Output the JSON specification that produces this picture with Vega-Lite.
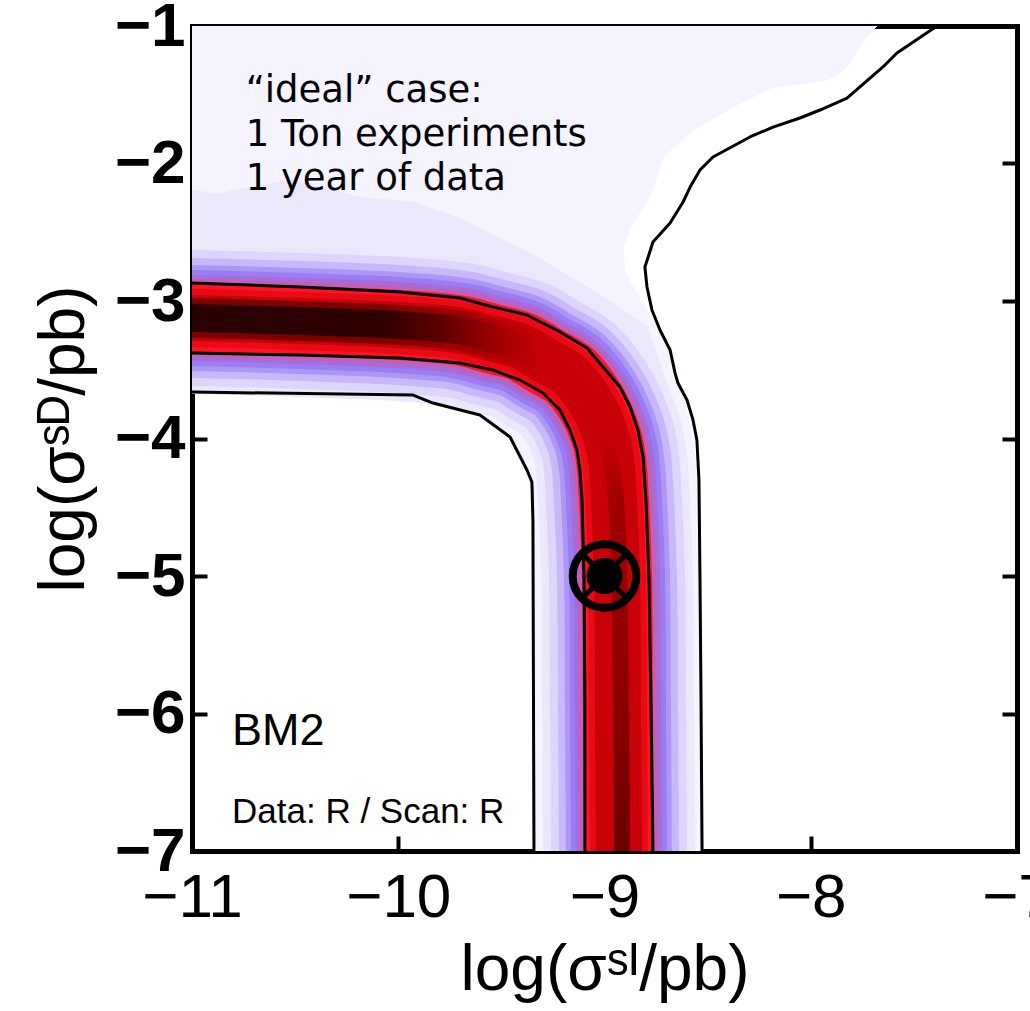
{
  "$schema": "https://vega.github.io/schema/vega-lite/v6.json",
  "width": 825,
  "height": 825,
  "autosize": {"type": "none"},
  "padding": {"left": 192, "top": 26, "right": 13, "bottom": 160},
  "background": "white",
  "config": {
    "view": {"stroke": null},
    "axis": {
      "domainColor": "black", "domainWidth": 5, "domainCap": "square",
      "tickColor": "black", "tickWidth": 4, "tickSize": -15,
      "grid": false, "labelColor": "black", "titleColor": "black",
      "zindex": 1, "labelFlush": false, "labelOverlap": false
    }
  },
  "datasets": {
    "center": [
      {"i": 0, "x": -11.301, "y": -3.120},
      {"i": 1, "x": -11.000, "y": -3.124},
      {"i": 2, "x": -10.476, "y": -3.145},
      {"i": 3, "x": -9.992, "y": -3.175},
      {"i": 4, "x": -9.701, "y": -3.215},
      {"i": 5, "x": -9.548, "y": -3.273},
      {"i": 6, "x": -9.405, "y": -3.331},
      {"i": 7, "x": -9.284, "y": -3.436},
      {"i": 8, "x": -9.175, "y": -3.531},
      {"i": 9, "x": -9.112, "y": -3.636},
      {"i": 10, "x": -9.051, "y": -3.775},
      {"i": 11, "x": -9.015, "y": -3.891},
      {"i": 12, "x": -8.985, "y": -4.018},
      {"i": 13, "x": -8.966, "y": -4.182},
      {"i": 14, "x": -8.954, "y": -4.447},
      {"i": 15, "x": -8.939, "y": -5.029},
      {"i": 16, "x": -8.935, "y": -5.902},
      {"i": 17, "x": -8.930, "y": -7.000},
      {"i": 18, "x": -8.930, "y": -7.429}
    ],
    "vcore": [
      {"i": 0, "x": -9.007, "y": -3.938},
      {"i": 1, "x": -8.954, "y": -4.302},
      {"i": 2, "x": -8.930, "y": -4.884},
      {"i": 3, "x": -8.920, "y": -5.902},
      {"i": 4, "x": -8.915, "y": -7.000},
      {"i": 5, "x": -8.915, "y": -7.429}
    ],
    "regions": [
      {"r": "L1", "i": 0, "x": -11, "y": -1},
      {"r": "L1", "i": 1, "x": -7.679, "y": -1},
      {"r": "L1", "i": 2, "x": -7.747, "y": -1.102},
      {"r": "L1", "i": 3, "x": -7.810, "y": -1.269},
      {"r": "L1", "i": 4, "x": -7.858, "y": -1.342},
      {"r": "L1", "i": 5, "x": -7.921, "y": -1.393},
      {"r": "L1", "i": 6, "x": -8.183, "y": -1.444},
      {"r": "L1", "i": 7, "x": -8.377, "y": -1.589},
      {"r": "L1", "i": 8, "x": -8.571, "y": -1.756},
      {"r": "L1", "i": 9, "x": -8.716, "y": -1.953},
      {"r": "L1", "i": 10, "x": -8.779, "y": -2.244},
      {"r": "L1", "i": 11, "x": -8.876, "y": -2.462},
      {"r": "L1", "i": 12, "x": -8.910, "y": -2.607},
      {"r": "L1", "i": 13, "x": -8.901, "y": -2.796},
      {"r": "L1", "i": 14, "x": -8.842, "y": -2.942},
      {"r": "L1", "i": 15, "x": -8.765, "y": -3.138},
      {"r": "L1", "i": 16, "x": -8.697, "y": -3.356},
      {"r": "L1", "i": 17, "x": -8.648, "y": -3.575},
      {"r": "L1", "i": 18, "x": -8.600, "y": -3.815},
      {"r": "L1", "i": 19, "x": -8.571, "y": -4.011},
      {"r": "L1", "i": 20, "x": -8.552, "y": -4.302},
      {"r": "L1", "i": 21, "x": -8.537, "y": -5.175},
      {"r": "L1", "i": 22, "x": -8.532, "y": -7},
      {"r": "L1", "i": 23, "x": -9.342, "y": -7},
      {"r": "L1", "i": 24, "x": -9.347, "y": -4.593},
      {"r": "L1", "i": 25, "x": -9.352, "y": -4.316},
      {"r": "L1", "i": 26, "x": -9.376, "y": -4.229},
      {"r": "L1", "i": 27, "x": -9.458, "y": -3.989},
      {"r": "L1", "i": 28, "x": -9.604, "y": -3.829},
      {"r": "L1", "i": 29, "x": -9.832, "y": -3.742},
      {"r": "L1", "i": 30, "x": -9.928, "y": -3.684},
      {"r": "L1", "i": 31, "x": -11, "y": -3.662},
      {"r": "L2", "i": 0, "x": -11, "y": -2.193},
      {"r": "L2", "i": 1, "x": -10.879, "y": -2.222},
      {"r": "L2", "i": 2, "x": -10.525, "y": -2.120},
      {"r": "L2", "i": 3, "x": -10.171, "y": -2.251},
      {"r": "L2", "i": 4, "x": -9.928, "y": -2.280},
      {"r": "L2", "i": 5, "x": -9.686, "y": -2.411},
      {"r": "L2", "i": 6, "x": -9.521, "y": -2.535},
      {"r": "L2", "i": 7, "x": -9.361, "y": -2.651},
      {"r": "L2", "i": 8, "x": -9.201, "y": -2.796},
      {"r": "L2", "i": 9, "x": -9.036, "y": -2.942},
      {"r": "L2", "i": 10, "x": -8.891, "y": -3.087},
      {"r": "L2", "i": 11, "x": -8.794, "y": -3.189},
      {"r": "L2", "i": 12, "x": -8.682, "y": -3.669},
      {"r": "L2", "i": 13, "x": -8.634, "y": -4.156},
      {"r": "L2", "i": 14, "x": -8.600, "y": -5.029},
      {"r": "L2", "i": 15, "x": -8.576, "y": -7},
      {"r": "L2", "i": 16, "x": -8.930, "y": -7},
      {"r": "L2", "i": 17, "x": -8.954, "y": -4.447},
      {"r": "L2", "i": 18, "x": -9.051, "y": -3.775},
      {"r": "L2", "i": 19, "x": -9.284, "y": -3.436},
      {"r": "L2", "i": 20, "x": -9.548, "y": -3.273},
      {"r": "L2", "i": 21, "x": -11, "y": -3.124}
    ],
    "contours": [
      {"c": "U", "i": 0, "x": -11, "y": -2.869},
      {"c": "U", "i": 1, "x": -10.476, "y": -2.898},
      {"c": "U", "i": 2, "x": -9.992, "y": -2.935},
      {"c": "U", "i": 3, "x": -9.701, "y": -2.978},
      {"c": "U", "i": 4, "x": -9.541, "y": -3.044},
      {"c": "U", "i": 5, "x": -9.376, "y": -3.102},
      {"c": "U", "i": 6, "x": -9.216, "y": -3.225},
      {"c": "U", "i": 7, "x": -9.085, "y": -3.342},
      {"c": "U", "i": 8, "x": -9.007, "y": -3.480},
      {"c": "U", "i": 9, "x": -8.925, "y": -3.625},
      {"c": "U", "i": 10, "x": -8.876, "y": -3.771},
      {"c": "U", "i": 11, "x": -8.838, "y": -3.938},
      {"c": "U", "i": 12, "x": -8.813, "y": -4.135},
      {"c": "U", "i": 13, "x": -8.799, "y": -4.447},
      {"c": "U", "i": 14, "x": -8.784, "y": -5.029},
      {"c": "U", "i": 15, "x": -8.775, "y": -5.902},
      {"c": "U", "i": 16, "x": -8.765, "y": -7.000},
      {"c": "L", "i": 0, "x": -11, "y": -3.378},
      {"c": "L", "i": 1, "x": -10.476, "y": -3.393},
      {"c": "L", "i": 2, "x": -9.992, "y": -3.415},
      {"c": "L", "i": 3, "x": -9.701, "y": -3.451},
      {"c": "L", "i": 4, "x": -9.541, "y": -3.502},
      {"c": "L", "i": 5, "x": -9.410, "y": -3.575},
      {"c": "L", "i": 6, "x": -9.298, "y": -3.669},
      {"c": "L", "i": 7, "x": -9.216, "y": -3.793},
      {"c": "L", "i": 8, "x": -9.167, "y": -3.938},
      {"c": "L", "i": 9, "x": -9.133, "y": -4.084},
      {"c": "L", "i": 10, "x": -9.119, "y": -4.229},
      {"c": "L", "i": 11, "x": -9.109, "y": -4.447},
      {"c": "L", "i": 12, "x": -9.099, "y": -5.029},
      {"c": "L", "i": 13, "x": -9.095, "y": -5.902},
      {"c": "L", "i": 14, "x": -9.095, "y": -7.000},
      {"c": "OL", "i": 0, "x": -11, "y": -3.662},
      {"c": "OL", "i": 1, "x": -9.928, "y": -3.684},
      {"c": "OL", "i": 2, "x": -9.832, "y": -3.742},
      {"c": "OL", "i": 3, "x": -9.604, "y": -3.829},
      {"c": "OL", "i": 4, "x": -9.458, "y": -3.989},
      {"c": "OL", "i": 5, "x": -9.376, "y": -4.229},
      {"c": "OL", "i": 6, "x": -9.352, "y": -4.316},
      {"c": "OL", "i": 7, "x": -9.347, "y": -4.593},
      {"c": "OL", "i": 8, "x": -9.342, "y": -7},
      {"c": "OR", "i": 0, "x": -7.388, "y": -1},
      {"c": "OR", "i": 1, "x": -7.582, "y": -1.196},
      {"c": "OR", "i": 2, "x": -7.650, "y": -1.298},
      {"c": "OR", "i": 3, "x": -7.795, "y": -1.487},
      {"c": "OR", "i": 4, "x": -7.824, "y": -1.524},
      {"c": "OR", "i": 5, "x": -7.955, "y": -1.611},
      {"c": "OR", "i": 6, "x": -8.052, "y": -1.669},
      {"c": "OR", "i": 7, "x": -8.183, "y": -1.735},
      {"c": "OR", "i": 8, "x": -8.295, "y": -1.807},
      {"c": "OR", "i": 9, "x": -8.474, "y": -1.953},
      {"c": "OR", "i": 10, "x": -8.537, "y": -2.047},
      {"c": "OR", "i": 11, "x": -8.585, "y": -2.171},
      {"c": "OR", "i": 12, "x": -8.619, "y": -2.280},
      {"c": "OR", "i": 13, "x": -8.682, "y": -2.433},
      {"c": "OR", "i": 14, "x": -8.765, "y": -2.571},
      {"c": "OR", "i": 15, "x": -8.804, "y": -2.753},
      {"c": "OR", "i": 16, "x": -8.794, "y": -2.898},
      {"c": "OR", "i": 17, "x": -8.770, "y": -3.065},
      {"c": "OR", "i": 18, "x": -8.731, "y": -3.211},
      {"c": "OR", "i": 19, "x": -8.682, "y": -3.356},
      {"c": "OR", "i": 20, "x": -8.658, "y": -3.524},
      {"c": "OR", "i": 21, "x": -8.644, "y": -3.596},
      {"c": "OR", "i": 22, "x": -8.600, "y": -3.720},
      {"c": "OR", "i": 23, "x": -8.571, "y": -3.865},
      {"c": "OR", "i": 24, "x": -8.552, "y": -4.011},
      {"c": "OR", "i": 25, "x": -8.542, "y": -4.302},
      {"c": "OR", "i": 26, "x": -8.537, "y": -5.029},
      {"c": "OR", "i": 27, "x": -8.532, "y": -5.902},
      {"c": "OR", "i": 28, "x": -8.527, "y": -7}
    ],
    "marker": [{"x": -9, "y": -5}],
    "ideal": [
      {"x": -10.74, "y": -1.553, "t": "“ideal” case:"},
      {"x": -10.74, "y": -1.873, "t": "1 Ton experiments"},
      {"x": -10.74, "y": -2.193, "t": "1 year of data"}
    ],
    "bm": [{"x": -10.806, "y": -6.229, "t": "BM2"}],
    "scan": [{"x": -10.806, "y": -6.796, "t": "Data: R / Scan: R"}]
  },
  "encoding": {
    "x": {"field": "x", "type": "quantitative", "scale": {"domain": [-11, -7], "nice": false, "zero": false}, "axis": null},
    "y": {"field": "y", "type": "quantitative", "scale": {"domain": [-7, -1], "nice": false, "zero": false}, "axis": null}
  },
  "layer": [
    {
      "data": {"name": "regions"},
      "transform": [{"filter": "datum.r === 'L1'"}],
      "mark": {"type": "line", "interpolate": "linear-closed", "fill": "#f5f3fe", "stroke": "#f5f3fe", "strokeWidth": 1, "clip": true},
      "encoding": {
        "x": {"field": "x", "type": "quantitative", "scale": {"domain": [-11, -7], "nice": false, "zero": false},
          "axis": {"orient": "bottom", "values": [-11, -10, -9, -8, -7], "title": "log(σˢᴵ/pb)",
            "labelFont": "Liberation Sans", "labelFontSize": 62, "labelPadding": 31, "labelDx": -18,
            "titleFont": "Liberation Sans", "titleFontSize": 64, "titleFontWeight": "normal", "titlePadding": 10}},
        "y": {"field": "y", "type": "quantitative", "scale": {"domain": [-7, -1], "nice": false, "zero": false},
          "axis": {"orient": "left", "values": [-7, -6, -5, -4, -3, -2, -1], "title": "log(σˢᴰ/pb)",
            "labelFont": "Liberation Sans", "labelFontSize": 62, "labelFontWeight": "bold", "labelPadding": 22,
            "titleFont": "Liberation Sans", "titleFontSize": 64, "titleFontWeight": "normal", "titlePadding": 18}},
        "order": {"field": "i", "type": "quantitative"}
      }
    },
    {
      "data": {"name": "regions"},
      "transform": [{"filter": "datum.r === 'L2'"}],
      "mark": {"type": "line", "interpolate": "linear-closed", "fill": "#ece8fc", "stroke": "#ece8fc", "strokeWidth": 1, "clip": true},
      "encoding": {
        "x": {"field": "x", "type": "quantitative", "scale": {"domain": [-11, -7], "nice": false, "zero": false},
          "axis": {"orient": "top", "values": [-11, -10, -9, -8, -7], "labels": false, "title": null}},
        "y": {"field": "y", "type": "quantitative", "scale": {"domain": [-7, -1], "nice": false, "zero": false},
          "axis": {"orient": "right", "values": [-7, -6, -5, -4, -3, -2, -1], "labels": false, "title": null}},
        "order": {"field": "i", "type": "quantitative"}
      }
    },
    {"data": {"name": "center"}, "mark": {"type": "line", "interpolate": "catmull-rom", "stroke": "#ece8fc", "strokeWidth": 152, "strokeCap": "butt", "strokeJoin": "round", "clip": true}, "encoding": {"order": {"field": "i", "type": "quantitative"}}},
    {"data": {"name": "center"}, "mark": {"type": "line", "interpolate": "catmull-rom", "stroke": "#ddd5fb", "strokeWidth": 136, "strokeCap": "butt", "strokeJoin": "round", "clip": true}, "encoding": {"order": {"field": "i", "type": "quantitative"}}},
    {"data": {"name": "center"}, "mark": {"type": "line", "interpolate": "catmull-rom", "stroke": "#c8b8fa", "strokeWidth": 120, "strokeCap": "butt", "strokeJoin": "round", "clip": true}, "encoding": {"order": {"field": "i", "type": "quantitative"}}},
    {"data": {"name": "center"}, "mark": {"type": "line", "interpolate": "catmull-rom", "stroke": "#ae96f7", "strokeWidth": 106, "strokeCap": "butt", "strokeJoin": "round", "clip": true}, "encoding": {"order": {"field": "i", "type": "quantitative"}}},
    {"data": {"name": "center"}, "mark": {"type": "line", "interpolate": "catmull-rom", "stroke": "#9a7cf4", "strokeWidth": 96, "strokeCap": "butt", "strokeJoin": "round", "clip": true}, "encoding": {"order": {"field": "i", "type": "quantitative"}}},
    {"data": {"name": "center"}, "mark": {"type": "line", "interpolate": "catmull-rom", "stroke": "#a86cd8", "strokeWidth": 86, "strokeCap": "butt", "strokeJoin": "round", "clip": true}, "encoding": {"order": {"field": "i", "type": "quantitative"}}},
    {"data": {"name": "center"}, "mark": {"type": "line", "interpolate": "catmull-rom", "stroke": "#c060b8", "strokeWidth": 78, "strokeCap": "butt", "strokeJoin": "round", "clip": true}, "encoding": {"order": {"field": "i", "type": "quantitative"}}},
    {"data": {"name": "center"}, "mark": {"type": "line", "interpolate": "catmull-rom", "stroke": "#ff1424", "strokeWidth": 70, "strokeCap": "butt", "strokeJoin": "round", "clip": true}, "encoding": {"order": {"field": "i", "type": "quantitative"}}},
    {"data": {"name": "center"}, "mark": {"type": "line", "interpolate": "catmull-rom", "stroke": "#ea0a16", "strokeWidth": 58, "strokeCap": "butt", "strokeJoin": "round", "clip": true}, "encoding": {"order": {"field": "i", "type": "quantitative"}}},
    {"data": {"name": "center"}, "mark": {"type": "line", "interpolate": "catmull-rom", "stroke": "#c80008", "strokeWidth": 46, "strokeCap": "butt", "strokeJoin": "round", "clip": true}, "encoding": {"order": {"field": "i", "type": "quantitative"}}},
    {
      "data": {"name": "center"},
      "transform": [{"filter": "datum.i <= 7"}],
      "mark": {"type": "line", "interpolate": "catmull-rom", "strokeWidth": 40, "strokeCap": "butt", "clip": true,
        "stroke": {"gradient": "linear", "x1": 0, "y1": 0, "x2": 1, "y2": 0,
          "stops": [{"offset": 0, "color": "#7a0000"}, {"offset": 0.6, "color": "#800000"}, {"offset": 0.8, "color": "#a00000"}, {"offset": 1, "color": "#c80008"}]}},
      "encoding": {"order": {"field": "i", "type": "quantitative"}}
    },
    {
      "data": {"name": "center"},
      "transform": [{"filter": "datum.i <= 7"}],
      "mark": {"type": "line", "interpolate": "catmull-rom", "strokeWidth": 28, "strokeCap": "butt", "clip": true,
        "stroke": {"gradient": "linear", "x1": 0, "y1": 0, "x2": 1, "y2": 0,
          "stops": [{"offset": 0, "color": "#280000"}, {"offset": 0.6, "color": "#2e0000"}, {"offset": 0.74, "color": "#5a0000"}, {"offset": 0.88, "color": "#a00000"}, {"offset": 1, "color": "#c80008"}]}},
      "encoding": {"order": {"field": "i", "type": "quantitative"}}
    },
    {
      "data": {"name": "vcore"},
      "mark": {"type": "line", "interpolate": "catmull-rom", "strokeWidth": 16, "strokeCap": "butt", "clip": true,
        "stroke": {"gradient": "linear", "x1": 0, "y1": 0, "x2": 0, "y2": 1,
          "stops": [{"offset": 0, "color": "#c80008"}, {"offset": 0.15, "color": "#a00000"}, {"offset": 0.5, "color": "#900000"}, {"offset": 0.85, "color": "#700000"}, {"offset": 1, "color": "#600000"}]}},
      "encoding": {"order": {"field": "i", "type": "quantitative"}}
    },
    {
      "data": {"name": "contours"},
      "mark": {"type": "line", "stroke": "black", "strokeWidth": 3, "strokeJoin": "round", "clip": true},
      "encoding": {"detail": {"field": "c", "type": "nominal"}, "order": {"field": "i", "type": "quantitative"}}
    },
    {
      "data": {"name": "marker"},
      "mark": {"type": "point", "shape": "M-1,-1L1,1M-1,1L1,-1", "filled": false, "stroke": "black", "strokeWidth": 5, "size": 2048, "opacity": 1}
    },
    {
      "data": {"name": "marker"},
      "mark": {"type": "point", "shape": "circle", "filled": false, "stroke": "black", "strokeWidth": 8, "size": 4045, "opacity": 1}
    },
    {
      "data": {"name": "marker"},
      "mark": {"type": "point", "shape": "circle", "filled": true, "fill": "black", "strokeWidth": 0, "size": 1296, "opacity": 1}
    },
    {
      "data": {"name": "ideal"},
      "mark": {"type": "text", "align": "left", "baseline": "alphabetic", "font": "DejaVu Sans", "fontSize": 37, "color": "black"},
      "encoding": {"text": {"field": "t"}}
    },
    {
      "data": {"name": "bm"},
      "mark": {"type": "text", "align": "left", "baseline": "alphabetic", "font": "Liberation Sans", "fontSize": 45, "color": "black"},
      "encoding": {"text": {"field": "t"}}
    },
    {
      "data": {"name": "scan"},
      "mark": {"type": "text", "align": "left", "baseline": "alphabetic", "font": "Liberation Sans", "fontSize": 35, "color": "black"},
      "encoding": {"text": {"field": "t"}}
    }
  ],
  "resolve": {"axis": {"x": "independent", "y": "independent"}}
}
